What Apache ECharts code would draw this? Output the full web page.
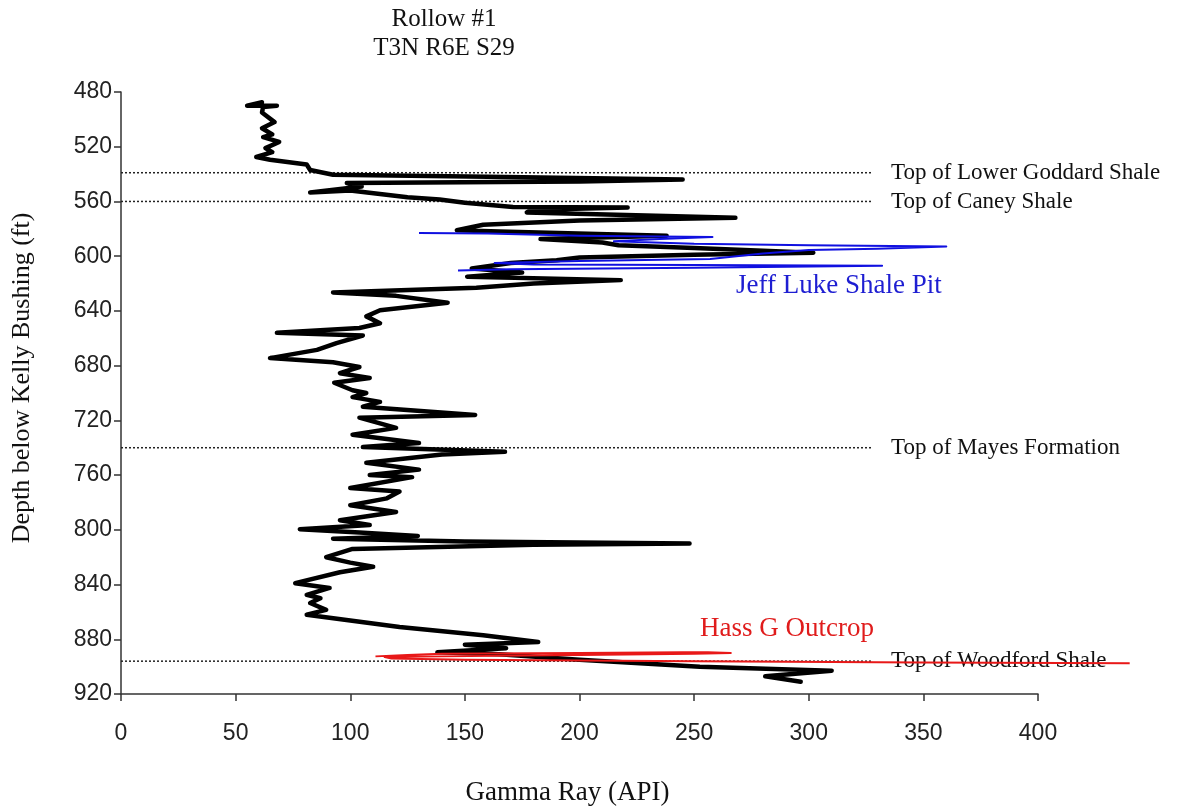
<!DOCTYPE html>
<html>
<head>
<meta charset="utf-8">
<script src="https://cdn.jsdelivr.net/npm/echarts@6/dist/echarts.min.js"></script>
<style>
  html, body { margin: 0; padding: 0; background: #fff; }
  #chart { width: 1179px; height: 807px; }
</style>
</head>
<body>
<div id="chart"></div>
<script>
// Rollow #1 gamma ray log (black)
const logApi = [61.5, 55, 68, 62, 61.5, 67, 61.5, 66, 62, 69, 63, 66, 59, 65, 81, 82.5, 92.5, 160, 245, 200,
  98.5, 105, 82.5, 100, 125, 139, 150, 171, 221, 180, 177, 268, 200, 158, 146.5, 165, 238, 183, 210, 217,
  250, 302, 250, 200, 190, 170, 153, 175, 151, 218, 180, 155, 92.5, 120, 142.5, 113, 107, 113, 104, 68,
  105.5, 94, 85.5, 65, 92.5, 104, 95.5, 108.5, 93, 101, 107, 101, 113, 105.5, 154.5, 104, 120, 101, 130, 105.5,
  167.5, 140, 107, 130, 108.5, 127, 100, 121.5, 116, 100, 120, 95.5, 108.5, 78, 104, 129.5, 92.5, 150, 248, 180,
  101, 89.5, 100, 110, 95.5, 76, 91, 81, 87, 82.5, 89.5, 81, 121.5, 158, 182, 150, 168, 138, 165, 200,
  252.5, 310, 281, 296.5]
const logDepth = [487.5, 490, 490, 491, 495, 502, 506.5, 511, 513, 516.5, 521, 524, 527.5, 529.5, 533, 537, 540.5, 542, 544, 545.5,
  546.5, 549, 553.5, 552, 557, 558.5, 561, 564, 564.5, 566, 568, 572, 574, 577, 581, 582, 585, 587.5, 590, 592,
  594, 597.5, 599, 601, 603, 605, 609, 612, 615, 617.5, 620, 623, 626.5, 629, 634, 639.5, 644, 649, 652.5, 656,
  658, 663.5, 668.5, 674.5, 677.5, 681, 685.5, 689, 692.5, 698, 700, 703, 706.5, 710, 716, 718, 725.5, 730.5, 736.5, 739.5,
  743, 745, 751, 756, 760, 761.5, 769.5, 772, 777, 782, 787, 793, 796.5, 799.5, 802, 804.5, 806.5, 808.5, 810, 811,
  814, 820, 824, 827, 831, 839, 842.5, 847.5, 850, 853.5, 858.5, 862, 871, 877, 882, 884, 886.5, 889.5, 891, 895,
  900, 903, 907, 911]

// Jeff Luke Shale Pit (blue)
const pitApi = [130, 160, 200, 258, 235, 215, 250, 300, 360, 330, 300, 280, 257, 200, 163, 180, 250, 332, 250, 170, 147]
const pitDepth = [583, 583.5, 585, 586, 587.5, 589, 591, 592, 593, 594.5, 595.5, 598, 602, 603.5, 605, 606, 606.5, 607, 608.5, 609.5, 610.5]

// Hass G Outcrop (red) - runs past the 400 edge of the axis
const outcropApi = [111, 125, 140, 200, 245, 256, 266, 250, 200, 140, 115, 118, 150, 250, 350, 440]
const outcropDepth = [892.5, 891.5, 890.5, 890, 889.5, 889.5, 890, 890.5, 891.5, 892.5, 893, 894, 895, 896, 897, 897.5]

// formation tops
const topNames = ['Top of Lower Goddard Shale', 'Top of Caney Shale', 'Top of Mayes Formation', 'Top of Woodford Shale']
const topDepths = [539, 560, 740, 896]
const topLineEnd = 328

const pairs = (xs, ys) => xs.map((x, i) => [x, ys[i]])

const serif = '"Liberation Serif", "DejaVu Serif", serif'
const sans = '"Liberation Sans", Arial, sans-serif'

const plotW = 917
const chart = echarts.init(document.getElementById('chart'))

const topSeries = topNames.map((name, i) => ({
  name,
  type: 'line',
  data: [[0, topDepths[i]], [topLineEnd, topDepths[i]]],
  symbol: 'none',
  silent: true,
  lineStyle: { color: '#222', width: 1.5, type: [2, 2] },
  endLabel: {
    show: true,
    formatter: name,
    distance: 18,
    color: '#111',
    fontFamily: serif,
    fontSize: 23
  },
  z: 1
}))

const option = {
  backgroundColor: '#fff',
  animation: false,
  grid: [
    { left: 121, width: plotW, top: 92, bottom: 113, outerBoundsMode: 'none' },
    // wider twin grid so the outcrop line can run out past 400
    { left: 121, width: plotW * 440 / 400, top: 92, bottom: 113, outerBoundsMode: 'none' }
  ],
  graphic: [
    {
      type: 'text',
      x: 444,
      y: 5,
      style: {
        text: 'Rollow #1\nT3N R6E S29',
        align: 'center',
        fill: '#111',
        font: '25px ' + serif,
        lineHeight: 29
      }
    },
    {
      type: 'text',
      left: 736,
      top: 272,
      style: { text: 'Jeff Luke Shale Pit', fill: '#1e1ed2', font: '27px ' + serif }
    },
    {
      type: 'text',
      left: 700,
      top: 615,
      style: { text: 'Hass G Outcrop', fill: '#e01c1c', font: '27px ' + serif }
    }
  ],
  xAxis: [
    {
      type: 'value',
      gridIndex: 0,
      min: 0,
      max: 400,
      interval: 50,
      name: 'Gamma Ray (API)',
      nameLocation: 'middle',
      nameGap: 85,
      nameTextStyle: { color: '#111', fontFamily: serif, fontSize: 27, padding: [0, 24, 0, 0] },
      axisLine: { onZero: false, lineStyle: { color: '#333', width: 1.5 } },
      axisTick: { show: true, length: 7, lineStyle: { color: '#333', width: 1.5 } },
      axisLabel: { color: '#222', fontFamily: sans, fontSize: 23, margin: 28 },
      splitLine: { show: false }
    },
    { type: 'value', gridIndex: 1, min: 0, max: 440, show: false }
  ],
  yAxis: [
    {
      type: 'value',
      gridIndex: 0,
      inverse: true,
      min: 480,
      max: 920,
      interval: 40,
      name: 'Depth below Kelly Bushing (ft)',
      nameLocation: 'middle',
      nameGap: 86,
      nameTextStyle: { color: '#111', fontFamily: serif, fontSize: 26, padding: [0, 0, 0, 30] },
      axisLine: { show: true, onZero: false, lineStyle: { color: '#333', width: 1.5 } },
      axisTick: { show: true, length: 7, lineStyle: { color: '#333', width: 1.5 } },
      axisLabel: { color: '#222', fontFamily: sans, fontSize: 23, margin: 9 },
      splitLine: { show: false }
    },
    { type: 'value', gridIndex: 1, inverse: true, min: 480, max: 920, show: false }
  ],
  series: [
    ...topSeries,
    {
      name: 'Rollow #1',
      type: 'line',
      data: pairs(logApi, logDepth),
      symbol: 'none',
      lineStyle: { color: '#000', width: 4.5, cap: 'round', join: 'round' },
      z: 2
    },
    {
      name: 'Jeff Luke Shale Pit',
      type: 'line',
      data: pairs(pitApi, pitDepth),
      symbol: 'none',
      lineStyle: { color: '#1010e0', width: 2, join: 'round' },
      z: 3
    },
    {
      name: 'Hass G Outcrop',
      type: 'line',
      xAxisIndex: 1,
      yAxisIndex: 1,
      data: pairs(outcropApi, outcropDepth),
      symbol: 'none',
      lineStyle: { color: '#e81818', width: 2, join: 'round' },
      z: 4
    }
  ]
}

chart.setOption(option)

window.addEventListener('resize', () => chart.resize())
</script>
</body>
</html>
